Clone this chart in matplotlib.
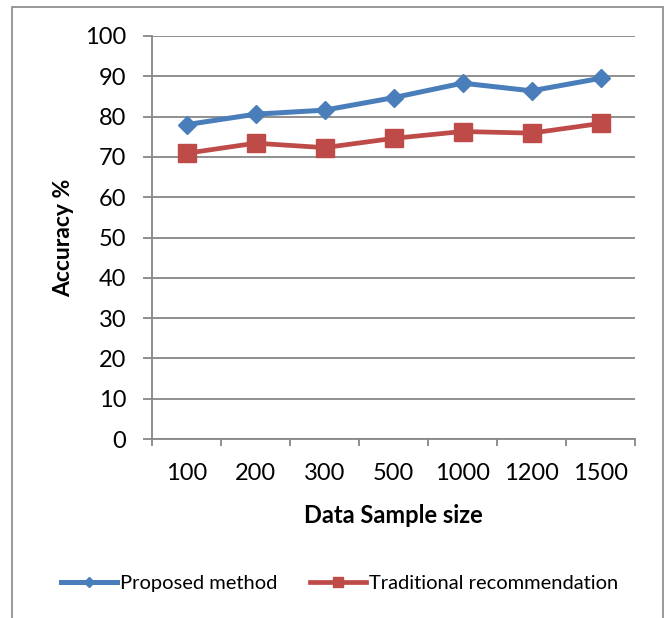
import matplotlib
matplotlib.use('Agg')
import matplotlib.pyplot as plt
from matplotlib.patches import Rectangle

plt.rcParams['font.family'] = ['Lato', 'DejaVu Sans']

sizes = ['100', '200', '300', '500', '1000', '1200', '1500']
proposed = [78.0, 80.6, 81.6, 84.7, 88.3, 86.4, 89.5]
traditional = [70.9, 73.4, 72.3, 74.6, 76.3, 75.9, 78.3]

grey = '#878787'
blue = '#4A7EBB'
red = '#BE4B48'

fig = plt.figure(figsize=(6.69, 6.18), dpi=100)
ax = fig.add_axes([152 / 669, 1 - 439 / 618, (635 - 152) / 669, (439 - 36) / 618])

# outer chart frame (bottom edge runs off the page)
fig.patches.append(Rectangle((12 / 669, -0.05), (663 - 12) / 669, 1.05 - 7 / 618,
                             transform=fig.transFigure, fill=False,
                             edgecolor=grey, linewidth=1.2))

x = list(range(len(sizes)))
ax.plot(x, proposed, color=blue, lw=3.6, marker='D', ms=9.5,
        label='Proposed method')
ax.plot(x, traditional, color=red, lw=3.4, marker='s', ms=13,
        label='Traditional recommendation')

ax.set_xlim(-0.5, len(sizes) - 0.5)
ax.set_ylim(0, 100)
ax.set_yticks(range(0, 101, 10))
ax.set_xticks(x)
ax.set_xticklabels(sizes)
ax.set_xticks([i - 0.5 for i in range(len(sizes) + 1)], minor=True)

ax.grid(axis='y', color=grey, lw=1.3)
ax.set_axisbelow(True)
for s in ['top', 'right']:
    ax.spines[s].set_visible(False)
for s in ['left', 'bottom']:
    ax.spines[s].set_color(grey)
    ax.spines[s].set_linewidth(1.3)

ax.tick_params(axis='y', length=6.5, width=1.3, color=grey, pad=12, labelsize=17)
ax.tick_params(axis='x', which='major', length=0, pad=17, labelsize=17)
ax.tick_params(axis='x', which='minor', length=5, width=1.3, color=grey)

ax.set_xlabel('Data Sample size', fontsize=17, fontweight='bold', labelpad=15)
ax.set_ylabel('Accuracy %', fontsize=16.5, fontweight='bold', labelpad=8)

fig.legend(loc='center', bbox_to_anchor=(0.508, 1 - 583 / 618), ncol=2,
           frameon=False, fontsize=14.5, handlelength=2.8, handletextpad=0.15,
           columnspacing=1.6, markerscale=0.5)

fig.savefig('out.png', dpi=100)
